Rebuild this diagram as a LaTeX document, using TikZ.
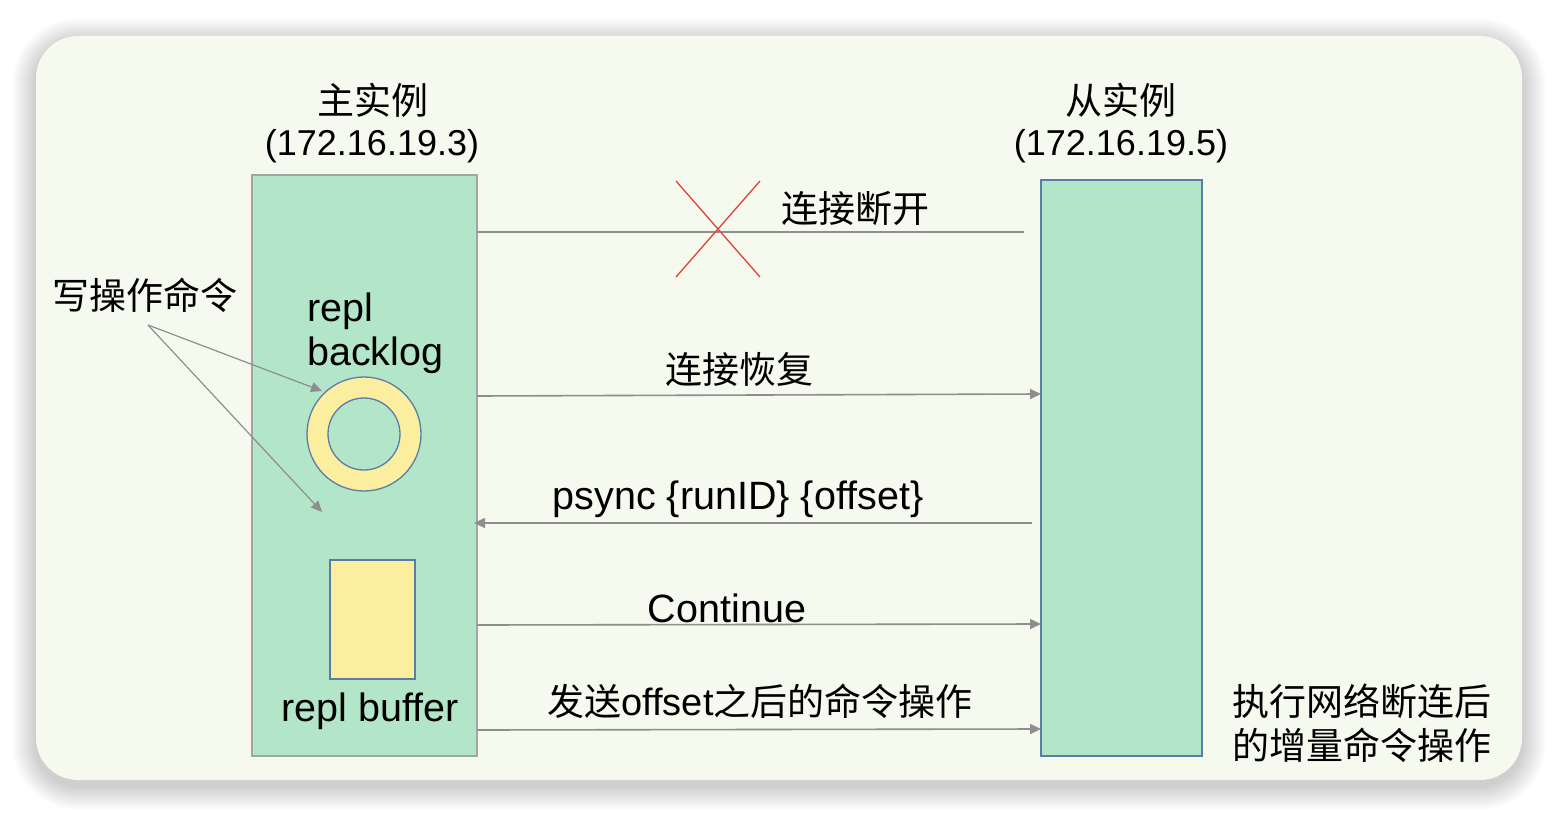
\documentclass[tikz,border=0pt]{standalone}
\usepackage{fontspec}
\setmainfont{Liberation Sans}
\newfontfamily\cjk{Noto Sans CJK SC}
\usetikzlibrary{arrows.meta}
\definecolor{panel}{HTML}{F5F9EE}
\definecolor{boxgreen}{HTML}{B3E6C8}
\definecolor{boxgray}{HTML}{9FA7A2}
\definecolor{boxblue}{HTML}{5B7CA6}
\definecolor{ringyel}{HTML}{FCEE9F}
\definecolor{linegray}{HTML}{8E8E8E}
\definecolor{crossred}{HTML}{E2413A}
\tikzset{
  lbl/.style={inner sep=0pt, font=\fontsize{37}{44}\selectfont\cjk},
  lat/.style={inner sep=0pt, font=\fontsize{39.5}{46}\selectfont},
  ipl/.style={inner sep=0pt, font=\fontsize{36}{44}\selectfont},
  conn/.style={draw=linegray, line width=1.6pt},
  arr/.style={conn, -{Triangle[length=11pt,width=10pt]}},
}
\begin{document}
\begin{tikzpicture}[x=1pt,y=-1pt]
\useasboundingbox (0,0) rectangle (1558,816);
\fill[white] (0,0) rectangle (1558,816);
% soft shadow
\foreach \i in {1,...,24}{
  \fill[black, opacity=0.006, rounded corners={42pt+\i pt}] (36-\i,36-\i+6) rectangle (1522+\i,780+\i+6);
}
% panel
\fill[panel, rounded corners=42pt] (36,36) rectangle (1522,780);
% boxes
\node[draw=boxgray, fill=boxgreen, line width=1.2pt, minimum width=225pt, minimum height=581pt, inner sep=0pt] (master) at (364.5,465.5) {};
\node[draw=boxblue, fill=boxgreen, line width=1.6pt, minimum width=161pt, minimum height=576pt, inner sep=0pt] (slave) at (1121.5,468) {};
% ring
\node[circle, draw=boxblue, fill=ringyel, line width=1.3pt, minimum size=114pt, inner sep=0pt] (ring) at (364,434) {};
\node[circle, draw=boxblue, fill=boxgreen, line width=1.3pt, minimum size=72pt, inner sep=0pt] (ringin) at (364,434) {};
% buffer
\node[draw=boxblue, fill=ringyel, line width=1.2pt, minimum width=85pt, minimum height=119pt, inner sep=0pt] (buf) at (372.5,619.5) {};
% titles
\node[lbl] (mt1) at (373,100) {主实例};
\node[ipl] (mt2) at (372,146) {(172.16.19.3)};
\node[lbl] (st1) at (1121,100) {从实例};
\node[ipl] (st2) at (1121,146) {(172.16.19.5)};
% inner labels
\node[lat, anchor=west] (repl) at (307,311) {repl};
\node[lat, anchor=west] (backlog) at (307,355) {backlog};
\node[lat] (replbuf) at (370,711) {repl buffer};
\node[lbl] (write) at (145,295) {写操作命令};
% connectors
\coordinate (c1a) at (477,232);
\coordinate (c1b) at (1024,232);
\draw[conn] (c1a) -- (c1b);
\coordinate (x1) at (676,181);
\coordinate (x2) at (760,277);
\coordinate (x3) at (760,181);
\coordinate (x4) at (676,277);
\draw[crossred, line width=1.3pt] (x1) -- (x2) (x3) -- (x4);
\node[lbl, anchor=west] (cut) at (781,208) {连接断开};

\coordinate (c2a) at (477,396);
\coordinate (c2b) at (1041,394);
\draw[arr] (c2a) -- (c2b);
\node[lbl] (resume) at (739,369) {连接恢复};

\coordinate (c3a) at (1032,523);
\coordinate (c3b) at (474,523);
\draw[arr] (c3a) -- (c3b);
\node[lat] (psync) at (738,499) {psync \{runID\} \{offset\}};

\coordinate (c4a) at (477,625);
\coordinate (c4b) at (1041,624);
\draw[arr] (c4a) -- (c4b);
\node[lat] (cont) at (727,608) {Continue};

\coordinate (c5a) at (477,730);
\coordinate (c5b) at (1041,729);
\draw[arr] (c5a) -- (c5b);
\node[lbl] (send) at (760,701) {发送{\fontspec{Liberation Sans}\fontsize{38}{44}\selectfont offset}之后的命令操作};

\node[lbl, anchor=west, align=left] (exec) at (1232,723) {执行网络断连后\\的增量命令操作};

% write arrows
\coordinate (wsrc) at (148,325);
\coordinate (w1) at (322,391);
\coordinate (w2) at (322,512);
\draw[arr, line width=1.2pt] (wsrc) -- (w1);
\draw[arr, line width=1.2pt] (wsrc) -- (w2);
\end{tikzpicture}
\end{document}
